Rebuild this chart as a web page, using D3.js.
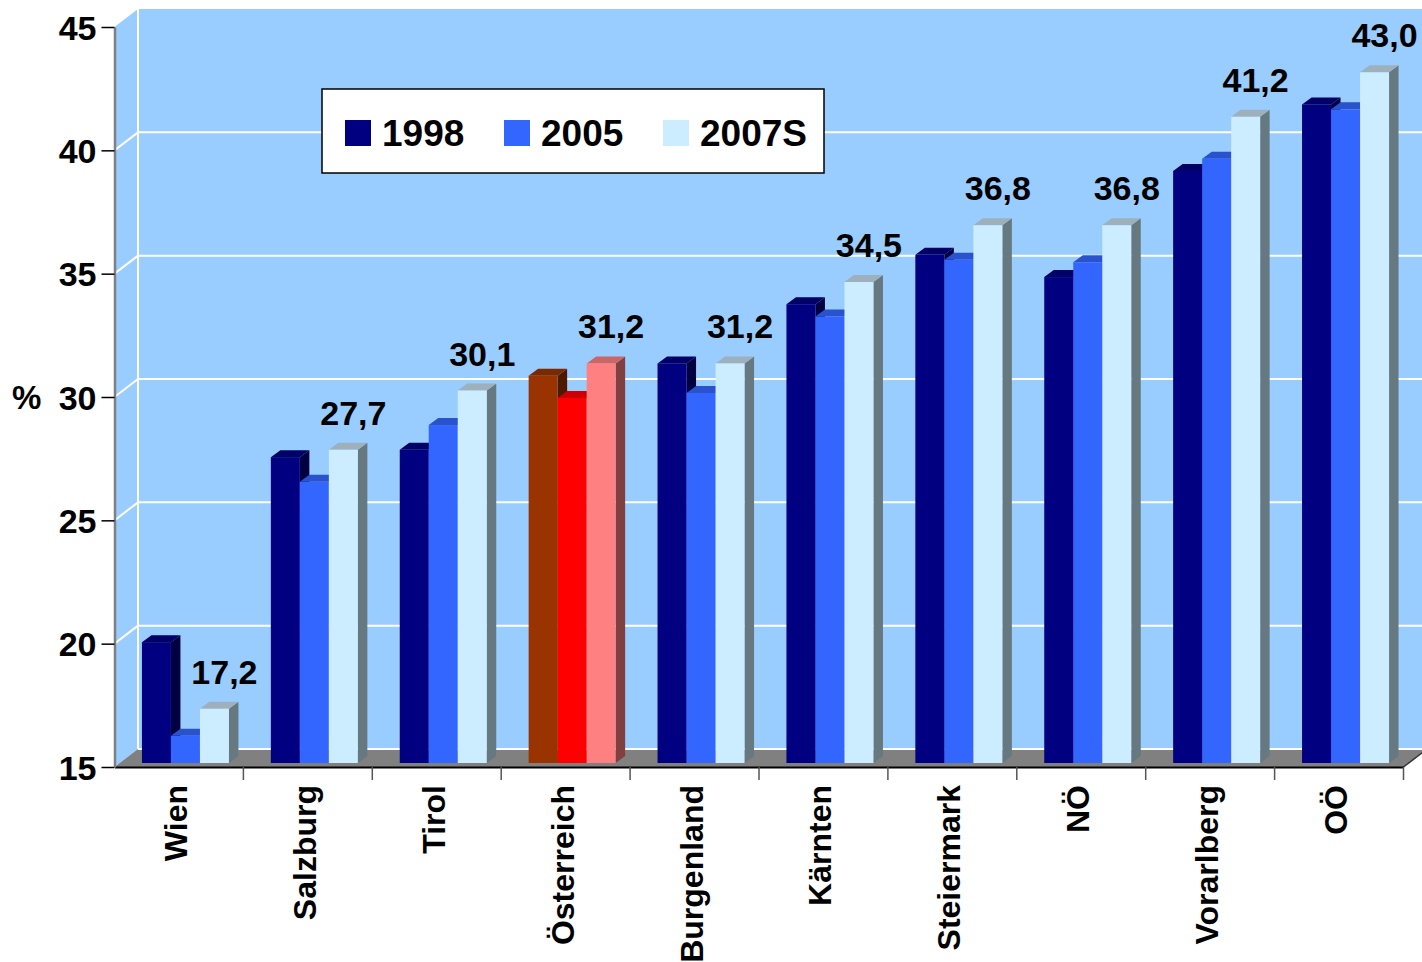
<!DOCTYPE html>
<html>
<head>
<meta charset="utf-8">
<script src="https://cdn.jsdelivr.net/npm/d3@7"></script>
<style>
  html, body { margin: 0; padding: 0; background: #ffffff; }
  svg { display: block; }
  text { font-family: "Liberation Sans", Arial, sans-serif; font-weight: bold; fill: #000; }
</style>
</head>
<body>
<svg id="chart" width="1422" height="962"></svg>
<script>
// Regions and survey years
const categories = ["Wien", "Salzburg", "Tirol", "Österreich", "Burgenland", "Kärnten", "Steiermark", "NÖ", "Vorarlberg", "OÖ"];
const seriesNames = ["1998", "2005", "2007S"];

// Share in percent per region
const values1998  = [19.9, 27.4, 27.7, 30.7, 31.2, 33.6, 35.6, 34.7, 39.0, 41.7];
const values2005  = [16.1, 26.4, 28.7, 29.8, 30.0, 33.1, 35.4, 35.3, 39.5, 41.5];
const values2007S = [17.2, 27.7, 30.1, 31.2, 31.2, 34.5, 36.8, 36.8, 41.2, 43.0];

const yTicks = [15, 20, 25, 30, 35, 40, 45];
const highlight = "Österreich";

const seriesValues = [values1998, values2005, values2007S];

// Face colours: front, top, side
const palette = {
  normal: [
    { front: "#000080", top: "#000066", side: "#000040" },
    { front: "#3366FF", top: "#2A52CC", side: "#1A3380" },
    { front: "#CCECFF", top: "#9DB0BC", side: "#667880" }
  ],
  highlight: [
    { front: "#993300", top: "#7A2900", side: "#4D1A00" },
    { front: "#FF0000", top: "#CC0000", side: "#800000" },
    { front: "#FF8080", top: "#CC6666", side: "#804040" }
  ]
};

const svg = d3.select("#chart");

// Front plane scales
const y = d3.scaleLinear().domain([15, 45]).range([767, 27]);
const x0 = d3.scaleBand().domain(categories).range([114.5, 1403.5]);
const x1 = d3.scaleBand().domain(seriesNames).range([0, x0.bandwidth() * 0.675]);

// Depth of the walls and of the bars
const wallDX = 23.5, wallDY = -18;
const barShiftX = 6.5, barShiftY = -4;
const barDX = 9.5, barDY = -7;
const groupInset = (x0.bandwidth() - x1.range()[1]) / 2 + barShiftX;

const xLeft = x0.range()[0], xRight = x0.range()[1];
const yBase = y(15), yTop = y(45);
const farRight = 1430;

// Side wall, back wall and floor
svg.append("polygon")
  .attr("points", [[xLeft, yTop], [xLeft + wallDX, yTop + wallDY], [xLeft + wallDX, yBase + wallDY], [xLeft, yBase]].join(" "))
  .attr("fill", "#99CCFF");
svg.append("rect")
  .attr("x", xLeft + wallDX).attr("y", yTop + wallDY)
  .attr("width", farRight - xLeft - wallDX).attr("height", yBase - yTop)
  .attr("fill", "#99CCFF");
svg.append("polygon")
  .attr("points", [[xLeft, yBase], [xRight, yBase], [xRight + wallDX, yBase + wallDY], [farRight, yBase + wallDY], [xLeft + wallDX, yBase + wallDY]].join(" "))
  .attr("fill", "#808080");
svg.append("line")
  .attr("x1", xRight).attr("y1", yBase).attr("x2", xRight + wallDX).attr("y2", yBase + wallDY)
  .attr("stroke", "#333").attr("stroke-width", 1.5);

// Gridlines on the walls
const grid = svg.append("g").attr("stroke", "#ffffff").attr("stroke-width", 2);
yTicks.filter(v => v < 45).forEach(v => {
  grid.append("line")
    .attr("x1", xLeft + wallDX).attr("x2", farRight)
    .attr("y1", y(v) + wallDY).attr("y2", y(v) + wallDY);
  if (v > 15) {
    grid.append("line")
      .attr("x1", xLeft).attr("y1", y(v))
      .attr("x2", xLeft + wallDX).attr("y2", y(v) + wallDY);
  }
});
grid.append("line")
  .attr("x1", xLeft + wallDX).attr("x2", xLeft + wallDX)
  .attr("y1", yTop + wallDY).attr("y2", yBase + wallDY);

// Bars drawn as front, top and side faces
const bars = svg.append("g");
categories.forEach((c, ci) => {
  const cols = c === highlight ? palette.highlight : palette.normal;
  seriesNames.forEach((s, si) => {
    const v = seriesValues[si][ci];
    const xl = x0(c) + groupInset + x1(s);
    const xr = xl + x1.bandwidth();
    const top = y(v) + barShiftY;
    const bottom = y(15) + barShiftY;
    const g = bars.append("g");
    g.append("polygon")
      .attr("points", [[xr, top], [xr + barDX, top + barDY], [xr + barDX, bottom + barDY], [xr, bottom]].join(" "))
      .attr("fill", cols[si].side);
    g.append("polygon")
      .attr("points", [[xl, top], [xl + barDX, top + barDY], [xr + barDX, top + barDY], [xr, top]].join(" "))
      .attr("fill", cols[si].top);
    g.append("rect")
      .attr("x", xl).attr("y", top)
      .attr("width", xr - xl).attr("height", bottom - top)
      .attr("fill", cols[si].front);
  });
});

// Value labels above the 2007S bars
const fmt = v => d3.format(".1f")(v).replace(".", ",");
svg.append("g").selectAll("text")
  .data(categories)
  .join("text")
  .attr("x", (c) => x0(c) + groupInset + x1("2007S") + x1.bandwidth() / 2 + 10)
  .attr("y", (c, i) => y(values2007S[i]) + barShiftY - 25)
  .attr("text-anchor", "middle")
  .style("font-size", "34px")
  .text((c, i) => fmt(values2007S[i]));

// Category axis
const xAxis = svg.append("g")
  .attr("transform", `translate(0,${yBase})`)
  .call(d3.axisBottom(x0).tickSize(0).tickSizeOuter(0));
xAxis.select(".domain").attr("stroke", "#000").attr("stroke-width", 2);
xAxis.selectAll(".tick text")
  .attr("transform", "rotate(-90)")
  .attr("x", -18).attr("y", 8).attr("dy", 0)
  .style("text-anchor", "end")
  .style("font-size", "32px")
  .style("font-family", "'Liberation Sans', Arial, sans-serif")
  .style("font-weight", "bold");
const bounds = categories.map(c => x0(c)).concat([xRight]);
xAxis.append("g").selectAll("line")
  .data(bounds.slice(1))
  .join("line")
  .attr("x1", d => d).attr("x2", d => d)
  .attr("y1", 0).attr("y2", 13)
  .attr("stroke", "#555").attr("stroke-width", 1.5);

// Value axis
const yAxis = svg.append("g")
  .attr("transform", `translate(${xLeft},0)`)
  .call(d3.axisLeft(y).tickValues(yTicks).tickSize(13).tickSizeOuter(0).tickPadding(5));
yAxis.select(".domain").attr("stroke", "#808080").attr("stroke-width", 2.5);
yAxis.selectAll(".tick line").attr("stroke", "#000").attr("stroke-width", 1.5);
yAxis.selectAll(".tick text")
  .style("font-size", "34px")
  .style("font-family", "'Liberation Sans', Arial, sans-serif")
  .style("font-weight", "bold")
  .attr("dy", "0.36em");

svg.append("text")
  .attr("x", 12).attr("y", y(30) + 12)
  .style("font-size", "33px")
  .text("%");

// Legend
const legend = svg.append("g");
legend.append("rect")
  .attr("x", 322).attr("y", 89).attr("width", 502).attr("height", 84)
  .attr("fill", "#fff").attr("stroke", "#000").attr("stroke-width", 1.5);
const legendX = [345, 504, 663];
seriesNames.forEach((s, i) => {
  legend.append("rect")
    .attr("x", legendX[i]).attr("y", 120).attr("width", 26).attr("height", 26)
    .attr("fill", palette.normal[i].front);
  legend.append("text")
    .attr("x", legendX[i] + 37).attr("y", 145.5)
    .style("font-size", "37px")
    .text(s);
});
</script>
</body>
</html>
